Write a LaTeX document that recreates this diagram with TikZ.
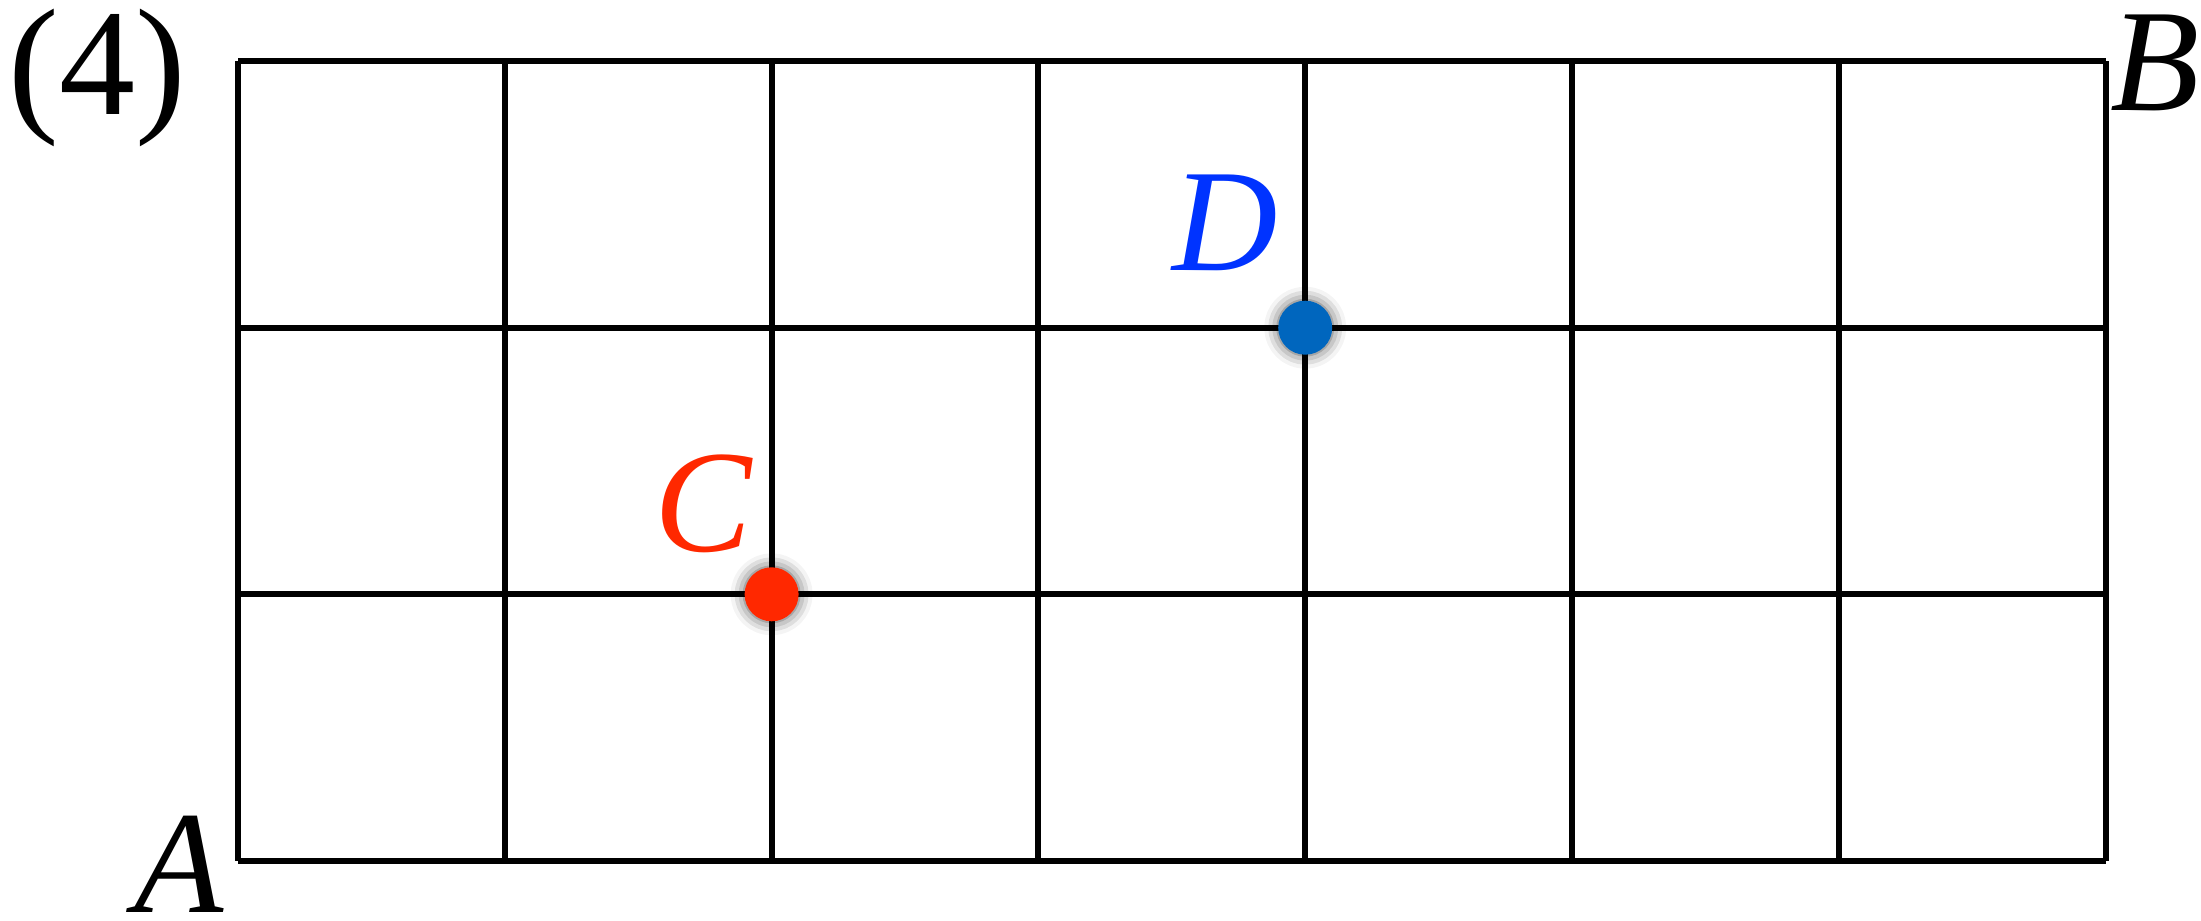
\documentclass[tikz,border=0pt]{standalone}
\usepackage{fontspec}
\setmainfont{Liberation Serif}
\usetikzlibrary{shadows.blur}
\definecolor{cred}{RGB}{255,40,0}
\definecolor{dblue}{RGB}{0,51,255}
\definecolor{dotblue}{RGB}{0,102,190}
\tikzset{
  gridline/.style={line width=3pt, black},
  lbl/.style={inner sep=0pt, outer sep=0pt, font=\fontsize{73}{80}\selectfont},
  dotstyle/.style={circle, minimum size=27pt, inner sep=0pt, draw=none,
    blur shadow={shadow xshift=0pt, shadow yshift=0pt, shadow blur radius=7pt, shadow opacity=70}},
}
\begin{document}
\begin{tikzpicture}[x=0.5pt, y=-0.5pt]
\useasboundingbox (0,0) rectangle (2201,921);
% grid
\foreach \i in {0,...,7} {
  \draw[gridline] ({238+\i*266.79},61) -- ({238+\i*266.79},861);
}
\foreach \j in {0,...,3} {
  \draw[gridline] (238,{61+\j*266.67}) -- (2105.5,{61+\j*266.67});
}
% labels
\node[lbl, anchor=base west, font=\fontsize{76}{80}\selectfont] (num) at (9,114) {(4)};
\node[lbl, anchor=base west] (B) at (2110,110) {\textit{B}};
\node[lbl, anchor=base west] (A) at (134,912) {\textit{A}};
\node[lbl, anchor=base west, text=cred] (Clbl) at (654,551) {\textit{C}};
\node[lbl, anchor=base west, text=dblue] (Dlbl) at (1172,270) {\textit{D}};
% points
\node[dotstyle, fill=cred] (C) at (771.6,594.3) {};
\node[dotstyle, fill=dotblue] (D) at (1305.2,327.7) {};
\end{tikzpicture}
\end{document}
